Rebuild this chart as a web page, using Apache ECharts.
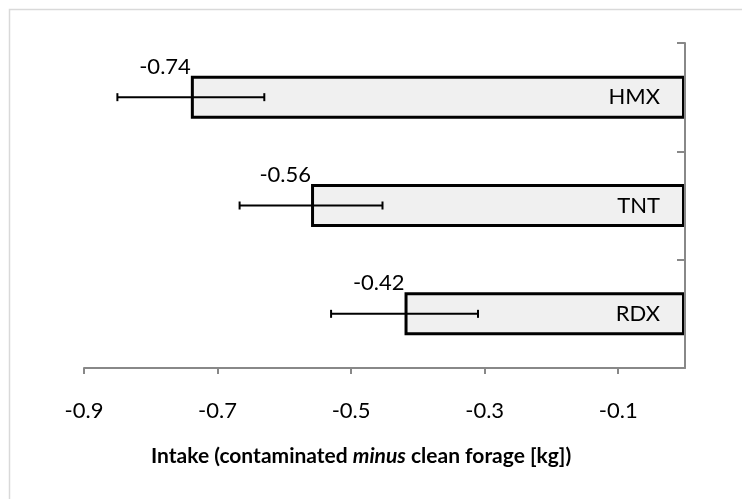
<!DOCTYPE html>
<html>
<head>
<meta charset="utf-8">
<script src="https://cdn.jsdelivr.net/npm/echarts@6/dist/echarts.min.js"></script>
<style>html,body{margin:0;padding:0;background:#fff}#c{width:742px;height:499px}</style>
</head>
<body>
<div id="c"></div>
<script>
const categories = ['RDX', 'TNT', 'HMX'];
const intakeValues = [-0.42, -0.56, -0.74];
const errorValues = [0.11, 0.107, 0.11];
const xTickLabels = ['-0.9', '-0.7', '-0.5', '-0.3', '-0.1'];

const FONT = 'Lato';
const chart = echarts.init(document.getElementById('c'));
const errData = intakeValues.map((v, i) => [v, i, errorValues[i]]);

chart.setOption({
  animation: false,
  backgroundColor: '#fff',
  textStyle: { fontFamily: FONT },
  graphic: [{
    type: 'rect', left: 7, top: 7, silent: true, z: -1,
    shape: { x: 0, y: 0, width: 800, height: 600 },
    style: { fill: 'none', stroke: '#d9d9d9', lineWidth: 1.5 }
  }],
  title: {
    left: 146, top: 441,
    text: '{b|Intake (contaminated }{i|minus}{b| clean forage [kg])}',
    textStyle: {
      rich: {
        b: { fontFamily: FONT, fontWeight: 'bold', fontSize: 21, color: '#000' },
        i: { fontFamily: FONT, fontWeight: 'bold', fontStyle: 'italic', fontSize: 21, color: '#000' }
      }
    }
  },
  grid: { left: 84, right: 57, top: 43, bottom: 131, containLabel: false },
  xAxis: {
    type: 'value', min: -0.9, max: 0, interval: 0.2,
    splitLine: { show: false },
    axisLine: { show: true, lineStyle: { color: '#888', width: 2 } },
    axisTick: { show: true, length: 6, lineStyle: { color: '#888', width: 2 } },
    axisLabel: {
      color: '#000', fontSize: 22, fontFamily: FONT, margin: 32,
      showMaxLabel: false,
      formatter: (v) => {
        const idx = Math.round((v + 0.9) / 0.2);
        return xTickLabels[idx] !== undefined && Math.abs(v) > 0.05 ? xTickLabels[idx] : '';
      }
    }
  },
  yAxis: {
    type: 'category', data: categories, position: 'right', z: 10,
    axisLine: { show: true, onZero: false, lineStyle: { color: '#888', width: 2 } },
    axisTick: { show: true, inside: true, length: 8, lineStyle: { color: '#888', width: 2 } },
    axisLabel: { inside: true, margin: 25, color: '#000', fontSize: 22, fontFamily: FONT },
    splitLine: { show: false }
  },
  series: [{
    type: 'bar',
    data: intakeValues,
    barWidth: 43,
    itemStyle: { color: '#f0f0f0', borderColor: '#000', borderWidth: 3 },
    label: {
      show: true, position: [0, 0], align: 'right', verticalAlign: 'bottom',
      offset: [0, 2],
      color: '#000', fontSize: 22, fontFamily: FONT,
      formatter: (p) => p.value.toFixed(2)
    },
    z: 2
  }, {
    type: 'custom',
    data: errData,
    encode: { x: 0, y: 1 },
    z: 5,
    renderItem: (params, api) => {
      const v = api.value(0), c = api.value(1), e = api.value(2);
      const p1 = api.coord([v - e, c]);
      const p2 = api.coord([v + e, c]);
      const h = 4;
      const st = { stroke: '#000', lineWidth: 2 };
      return {
        type: 'group',
        children: [
          { type: 'line', shape: { x1: p1[0], y1: p1[1], x2: p2[0], y2: p2[1] }, style: st },
          { type: 'line', shape: { x1: p1[0], y1: p1[1] - h, x2: p1[0], y2: p1[1] + h }, style: st },
          { type: 'line', shape: { x1: p2[0], y1: p2[1] - h, x2: p2[0], y2: p2[1] + h }, style: st }
        ]
      };
    }
  }]
});
</script>
</body>
</html>
